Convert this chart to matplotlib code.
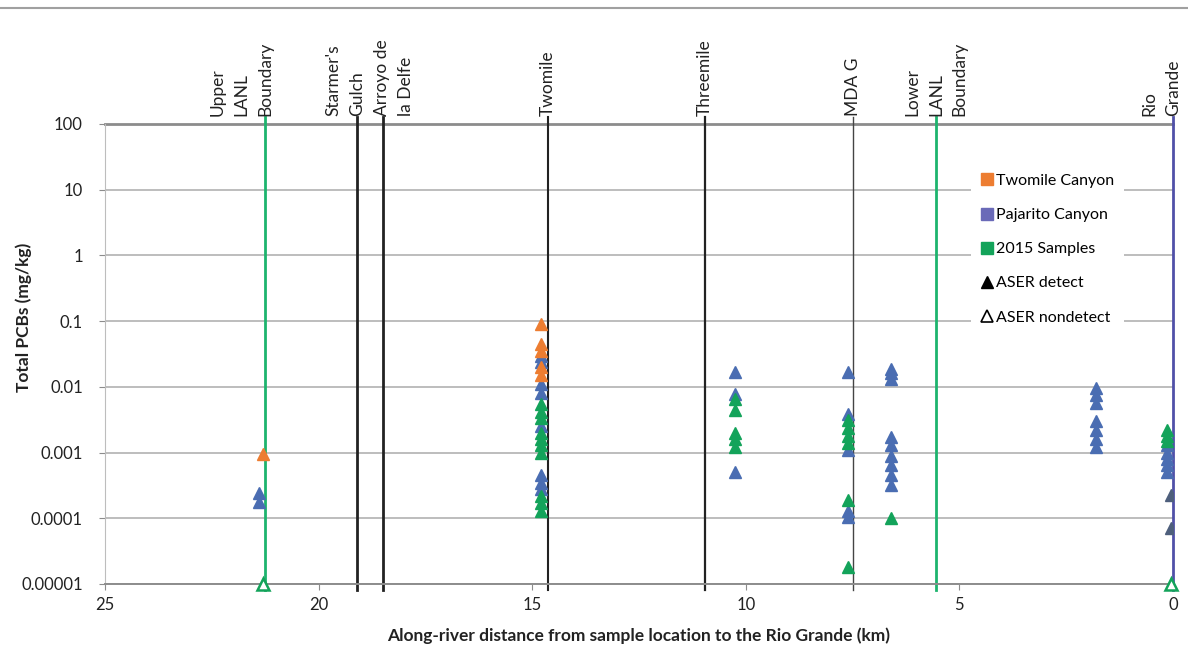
import matplotlib
matplotlib.use("Agg")
import matplotlib.pyplot as plt
from matplotlib.lines import Line2D

plt.rcParams['font.family'] = ['Lato', 'DejaVu Sans']

# ---- data ----
twomile_km = [21.3, 14.8, 14.8, 14.8, 14.8, 14.8]
twomile_val = [0.00095, 0.09, 0.045, 0.035, 0.02, 0.015]

pajarito_km = [21.4, 21.4,
               14.8, 14.8, 14.8, 14.8, 14.8, 14.8, 14.8, 14.8,
               10.25, 10.25, 10.25,
               7.6, 7.6, 7.6, 7.6, 7.6,
               6.6, 6.6, 6.6, 6.6, 6.6, 6.6, 6.6, 6.6, 6.6,
               1.8, 1.8, 1.8, 1.8, 1.8, 1.8, 1.8,
               0.15, 0.15, 0.15, 0.15, 0.15]
pajarito_val = [0.00024, 0.00018,
                0.03, 0.024, 0.011, 0.008, 0.0025, 0.00045, 0.00035, 0.00028,
                0.017, 0.0078, 0.0005,
                0.017, 0.0038, 0.0011, 0.00013, 0.000105,
                0.019, 0.016, 0.013, 0.0017, 0.0013, 0.0009, 0.00065, 0.00045, 0.00032,
                0.0095, 0.0075, 0.0056, 0.003, 0.0022, 0.0016, 0.0012,
                0.0013, 0.001, 0.0008, 0.00065, 0.0005]

samples2015_km = [14.8, 14.8, 14.8, 14.8, 14.8, 14.8, 14.8, 14.8, 14.8, 14.8,
                  10.25, 10.25, 10.25, 10.25, 10.25,
                  7.6, 7.6, 7.6, 7.6, 7.6, 7.6,
                  6.6,
                  0.15, 0.15, 0.15]
samples2015_val = [0.0055, 0.0042, 0.0033, 0.002, 0.0016, 0.0013, 0.001, 0.00022, 0.00017, 0.00013,
                   0.0065, 0.0045, 0.002, 0.0016, 0.0012,
                   0.0031, 0.0024, 0.0018, 0.0014, 0.00019, 0.000018,
                   0.0001,
                   0.0022, 0.0018, 0.0015]

aser_detect_km = [0.05, 0.05]
aser_detect_val = [0.00023, 0.00007]

aser_nondetect_km = [21.3, 0.05]
aser_nondetect_val = [0.00001, 0.00001]

landmark_km = [21.25, 19.1, 18.5, 14.63, 10.95, 7.5, 5.55, 0.0]
landmark_names = ["Upper\nLANL\nBoundary", "Starmer's\nGulch", "Arroyo de\nla Delfe",
                  "Twomile", "Threemile", "MDA G", "Lower\nLANL\nBoundary", "Rio\nGrande"]
landmark_colors = ["#1DB46E", "#222222", "#222222", "#222222", "#222222", "#444444",
                   "#1DB46E", "#5050A8"]
landmark_widths = [2.0, 2.0, 2.0, 1.5, 1.6, 1.0, 2.0, 2.0]
landmark_ha = ["right", "right", "left", "center", "center", "center", "center", "right"]

y_ticks = [1e2, 1e1, 1, 1e-1, 1e-2, 1e-3, 1e-4, 1e-5]
y_tick_labels = ["100", "10", "1", "0.1", "0.01", "0.001", "0.0001", "0.00001"]
x_ticks = [25, 20, 15, 10, 5, 0]

# ---- figure ----
fig = plt.figure(figsize=(11.88, 6.58), dpi=100)
ax = fig.add_axes([105/1188, 1-584/658, (1173-105)/1188, 460/658])

ax.set_yscale('log')
ax.set_ylim(1e-5, 1e2)
ax.set_xlim(25, 0)

ax.set_yticks(y_ticks)
ax.set_yticklabels(y_tick_labels)
ax.minorticks_off()
ax.set_xticks(x_ticks)
ax.set_xticklabels([str(v) for v in x_ticks])

for y in y_ticks:
    ax.axhline(y, color="#BDBDBD", lw=1.4, zorder=0)
ax.axhline(1e2, color="#8C8C8C", lw=2.0, zorder=0, clip_on=False)

for s in ['top', 'right']:
    ax.spines[s].set_visible(False)
ax.spines['left'].set_color("#BDBDBD")
ax.spines['bottom'].set_color("#8C8C8C")
ax.spines['bottom'].set_linewidth(1.4)
ax.tick_params(axis='both', colors="#8C8C8C", labelcolor="#222222", labelsize=12, length=4)
ax.tick_params(axis='x', pad=5)
ax.tick_params(axis='y', pad=12)

# landmark lines & labels
for km, name, c, lw, ha in zip(landmark_km, landmark_names, landmark_colors, landmark_widths, landmark_ha):
    ax.axvline(km, ymin=-0.013, ymax=1.015, color=c, lw=lw, clip_on=False, zorder=2)
    dx = {"right": 6, "left": -6, "center": 0}[ha]
    ax.annotate(name, xy=(km, 1.0), xycoords=('data', 'axes fraction'),
                xytext=(dx, 6), textcoords='offset points',
                rotation=90, ha=ha, va='bottom', multialignment='left',
                fontsize=12.5, color="#222222", linespacing=1.6)

ms = 8
ax.plot(twomile_km, twomile_val, ls='none', marker='^', ms=ms, color="#ED7D31",
        mec="#ED7D31", zorder=4)
ax.plot(pajarito_km, pajarito_val, ls='none', marker='^', ms=ms, color="#4A6DB2",
        mec="#4A6DB2", zorder=3)
ax.plot(samples2015_km, samples2015_val, ls='none', marker='^', ms=ms, color="#13A35A",
        mec="#13A35A", zorder=3.5)
ax.plot(aser_detect_km, aser_detect_val, ls='none', marker='^', ms=ms, color="#4E5F7C",
        mec="#4E5F7C", zorder=4)
ax.plot(aser_nondetect_km, aser_nondetect_val, ls='none', marker='^', ms=ms, mfc='white',
        mec="#13A35A", mew=1.8, zorder=4, clip_on=False)

handles = [
    Line2D([], [], ls='none', marker='s', ms=8, color="#ED7D31"),
    Line2D([], [], ls='none', marker='s', ms=8, color="#6A6AB8"),
    Line2D([], [], ls='none', marker='s', ms=8, color="#13A35A"),
    Line2D([], [], ls='none', marker='^', ms=8, color="black"),
    Line2D([], [], ls='none', marker='^', ms=8, mfc='white', mec='black', mew=1.2),
]
labels = ["Twomile Canyon", "Pajarito Canyon", "2015 Samples", "ASER detect", "ASER nondetect"]
leg = ax.legend(handles, labels, loc='upper left', bbox_to_anchor=(0.803, 0.93),
                frameon=True, fontsize=11.5, labelspacing=1.25, handletextpad=0.1,
                handlelength=0.9, borderpad=0.6)
leg.get_frame().set_edgecolor('none')
leg.get_frame().set_facecolor('white')
leg.get_frame().set_alpha(1)
leg.set_zorder(6)

ax.set_xlabel("Along-river distance from sample location to the Rio Grande (km)",
              fontsize=12.5, fontweight='bold', color="#222222", labelpad=11)
ax.set_ylabel("Total PCBs (mg/kg)", fontsize=12.5, fontweight='bold', color="#222222")
ax.yaxis.set_label_coords(-0.068, 0.58)

fig.add_artist(Line2D([0, 1], [1-8/658, 1-8/658], color="#A0A0A0", lw=1.5,
                      transform=fig.transFigure))

fig.savefig("out.png", dpi=100)
